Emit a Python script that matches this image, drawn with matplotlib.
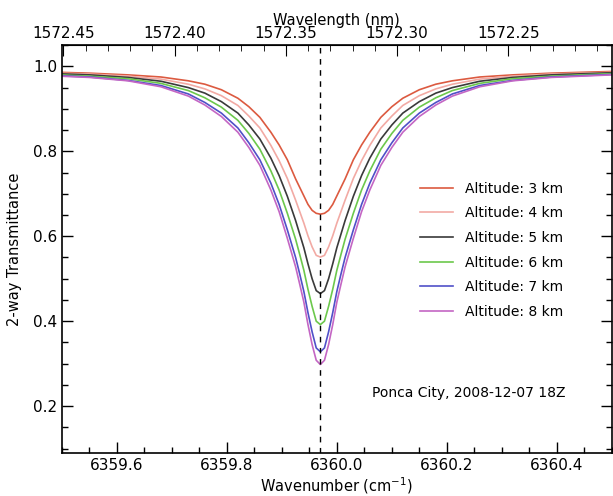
import matplotlib
matplotlib.use("Agg")
import matplotlib.pyplot as plt
from matplotlib.ticker import MultipleLocator, FormatStrFormatter

# wavenumber grid (cm^-1), line centre near 6359.97
wavenumber = [6359.44, 6359.55, 6359.62, 6359.68, 6359.73, 6359.76, 6359.79, 6359.82,
              6359.84, 6359.86, 6359.88, 6359.895, 6359.91, 6359.925, 6359.9325, 6359.94,
              6359.9475, 6359.955, 6359.9625, 6359.97, 6359.9775, 6359.985, 6359.9925,
              6360.0, 6360.0075, 6360.015, 6360.03, 6360.045, 6360.06, 6360.08, 6360.10,
              6360.12, 6360.15, 6360.18, 6360.21, 6360.26, 6360.32, 6360.39, 6360.50]

# transmittance, one list per altitude
t_3km = [0.988, 0.984, 0.980, 0.975, 0.966, 0.958, 0.945, 0.925, 0.905, 0.880, 0.845, 0.815,
         0.780, 0.735, 0.715, 0.695, 0.675, 0.661, 0.654, 0.652, 0.654, 0.661, 0.675, 0.695,
         0.715, 0.735, 0.780, 0.815, 0.845, 0.880, 0.905, 0.925, 0.945, 0.958, 0.966, 0.975,
         0.980, 0.984, 0.988]
t_4km = [0.986, 0.982, 0.977, 0.970, 0.958, 0.947, 0.931, 0.908, 0.883, 0.855, 0.814, 0.778,
         0.736, 0.685, 0.658, 0.631, 0.601, 0.575, 0.555, 0.551, 0.555, 0.575, 0.601, 0.631,
         0.658, 0.685, 0.736, 0.778, 0.814, 0.855, 0.883, 0.908, 0.931, 0.947, 0.958, 0.970,
         0.977, 0.982, 0.986]
t_5km = [0.985, 0.980, 0.974, 0.965, 0.950, 0.937, 0.917, 0.890, 0.862, 0.829, 0.784, 0.743,
         0.694, 0.637, 0.605, 0.573, 0.535, 0.500, 0.472, 0.465, 0.472, 0.500, 0.535, 0.573,
         0.605, 0.637, 0.694, 0.743, 0.784, 0.829, 0.862, 0.890, 0.917, 0.937, 0.950, 0.965,
         0.974, 0.980, 0.985]
t_6km = [0.983, 0.977, 0.971, 0.960, 0.943, 0.926, 0.904, 0.873, 0.842, 0.805, 0.754, 0.709,
         0.654, 0.593, 0.557, 0.520, 0.475, 0.435, 0.400, 0.392, 0.400, 0.435, 0.475, 0.520,
         0.557, 0.593, 0.654, 0.709, 0.754, 0.805, 0.842, 0.873, 0.904, 0.926, 0.943, 0.960,
         0.971, 0.977, 0.983]
t_7km = [0.981, 0.975, 0.967, 0.955, 0.935, 0.915, 0.890, 0.855, 0.820, 0.780, 0.725, 0.675,
         0.615, 0.550, 0.511, 0.470, 0.420, 0.375, 0.337, 0.328, 0.337, 0.375, 0.420, 0.470,
         0.511, 0.550, 0.615, 0.675, 0.725, 0.780, 0.820, 0.855, 0.890, 0.915, 0.935, 0.955,
         0.967, 0.975, 0.981]
t_8km = [0.980, 0.974, 0.966, 0.952, 0.930, 0.909, 0.882, 0.845, 0.809, 0.767, 0.709, 0.658,
         0.595, 0.528, 0.487, 0.445, 0.392, 0.345, 0.308, 0.298, 0.308, 0.345, 0.392, 0.445,
         0.487, 0.528, 0.595, 0.658, 0.709, 0.767, 0.809, 0.845, 0.882, 0.909, 0.930, 0.952,
         0.966, 0.974, 0.980]

labels = ["Altitude: 3 km", "Altitude: 4 km", "Altitude: 5 km",
          "Altitude: 6 km", "Altitude: 7 km", "Altitude: 8 km"]
colors = ["#dc5a40", "#f2aaa4", "#3a3a3a", "#6cc84c", "#5050c8", "#c466c4"]
line_centre = 6359.97

fig = plt.figure(figsize=(6.13, 4.96), dpi=100)
ax = fig.add_axes([0.101, 0.087, 0.897, 0.822])

for t, lab, c in zip([t_3km, t_4km, t_5km, t_6km, t_7km, t_8km], labels, colors):
    ax.plot(wavenumber, t, color=c, lw=1.2, label=lab)

ax.axvline(line_centre, color="black", ls=(0, (4, 4)), lw=1.0)

ax.set_xlim(6359.5, 6360.5)
ax.set_ylim(0.09, 1.05)
ax.xaxis.set_major_locator(MultipleLocator(0.2))
ax.xaxis.set_minor_locator(MultipleLocator(0.05))
ax.xaxis.set_major_formatter(FormatStrFormatter("%.1f"))
ax.yaxis.set_major_locator(MultipleLocator(0.2))
ax.yaxis.set_minor_locator(MultipleLocator(0.05))
ax.tick_params(which="both", direction="in", top=False, right=True, labelsize=11, width=1.0)
ax.tick_params(which="major", length=8)
ax.tick_params(which="minor", length=4)
for s in ax.spines.values():
    s.set_linewidth(1.2)

ax.set_xlabel("Wavenumber (cm$^{-1}$)", fontsize=10.5, labelpad=2)
ax.set_ylabel("2-way Transmittance", fontsize=10.5, labelpad=8)

top = ax.secondary_xaxis("top", functions=(lambda w: 1e7 / w, lambda l: 1e7 / l))
top.set_xticks([1572.45, 1572.40, 1572.35, 1572.30, 1572.25])
top.xaxis.set_major_formatter(FormatStrFormatter("%.2f"))
top.xaxis.set_minor_locator(MultipleLocator(0.01))
top.tick_params(which="both", direction="in", labelsize=11, pad=3)
top.tick_params(which="major", length=8)
top.tick_params(which="minor", length=4)
top.set_xlabel("Wavelength (nm)", fontsize=10.5, labelpad=1)

ax.legend(loc="upper left", bbox_to_anchor=(0.674, 0.648), bbox_transform=fig.transFigure,
          frameon=False, fontsize=10, borderpad=0, handlelength=2.4,
          handletextpad=0.85, labelspacing=0.77)

ax.text(6360.064, 0.231, "Ponca City, 2008-12-07 18Z", fontsize=10, va="center")

fig.savefig("out.png", dpi=100)
